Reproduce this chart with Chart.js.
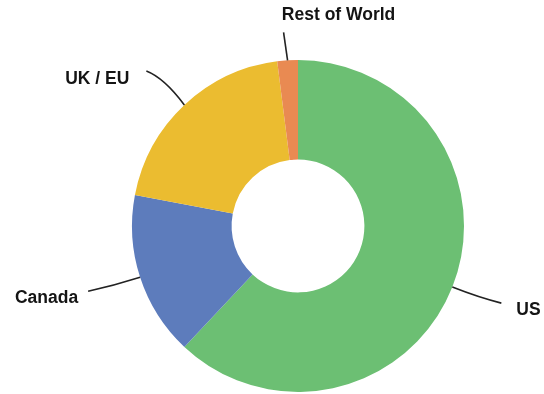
<!DOCTYPE html>
<html>
<head>
<meta charset="utf-8">
<script src="https://cdn.jsdelivr.net/npm/chart.js@4"></script>
<style>
  html, body { margin: 0; padding: 0; background: #fff; }
  #wrap { width: 544px; height: 394px; }
</style>
</head>
<body>
<div id="wrap"><canvas id="chart-1"></canvas></div>
<script>
// share of total (percent)
const regions = ['US', 'Canada', 'UK / EU', 'Rest of World'];
const shares = [62, 16, 20, 2];
const colors = ['#6cbf73', '#5d7cbc', '#ebbc30', '#e98a52'];

// where each label sits relative to where its leader leaves the ring
const callouts = [
  { dx: 49, dy: 16, cx: 28, cy: 11, tx: 64, ty: 23, align: 'left' },     // US
  { dx: -52, dy: 14, cx: -25, cy: 8, tx: -62, ty: 21, align: 'right' },  // Canada
  { dx: -38, dy: -34, cx: -20, cy: -27, tx: -55, ty: -26, align: 'right' }, // UK / EU
  { dx: -4, dy: -28, cx: -2, cy: -14, tx: 51, ty: -45, align: 'center' }  // Rest of World
];

const labelPlugin = {
  id: 'callouts',
  afterDatasetsDraw(chart) {
    const ctx = chart.ctx;
    const arcs = chart.getDatasetMeta(0).data;
    ctx.save();
    arcs.forEach((arc, i) => {
      const c = callouts[i];
      const mid = (arc.startAngle + arc.endAngle) / 2;
      const x0 = arc.x + Math.cos(mid) * arc.outerRadius;
      const y0 = arc.y + Math.sin(mid) * arc.outerRadius;
      ctx.strokeStyle = '#222';
      ctx.lineWidth = 1.6;
      ctx.beginPath();
      ctx.moveTo(x0, y0);
      ctx.quadraticCurveTo(x0 + c.cx, y0 + c.cy, x0 + c.dx, y0 + c.dy);
      ctx.stroke();
      ctx.fillStyle = '#141414';
      ctx.font = 'bold 17.5px "Liberation Sans", Arial, sans-serif';
      ctx.textAlign = c.align;
      ctx.textBaseline = 'middle';
      ctx.fillText(regions[i], x0 + c.tx, y0 + c.ty);
    });
    ctx.restore();
  }
};

const ctx1 = document.getElementById('chart-1').getContext('2d');

const myChart = new Chart(ctx1, {
  type: 'doughnut',
  data: {
    labels: regions,
    datasets: [{
      data: shares,
      backgroundColor: colors,
      borderWidth: 0
    }]
  },
  options: {
    responsive: true,
    maintainAspectRatio: false,
    animation: false,
    cutout: '40%',
    layout: { padding: { left: 132, right: 80, top: 60, bottom: 2 } },
    plugins: {
      legend: { display: false },
      tooltip: { enabled: false }
    }
  },
  plugins: [labelPlugin]
});
</script>
</body>
</html>
